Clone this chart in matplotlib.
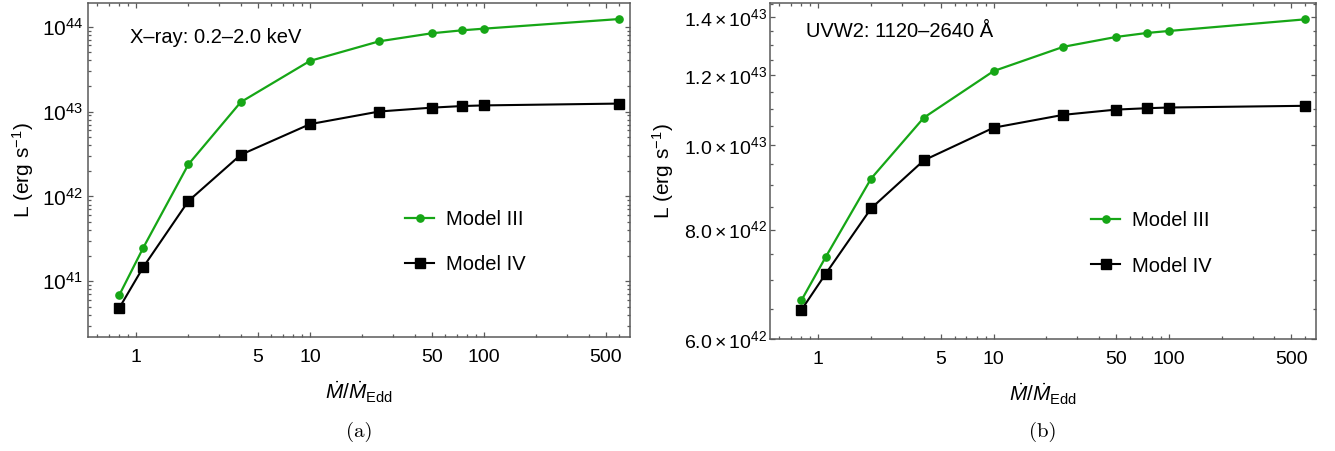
import matplotlib
matplotlib.use('Agg')
import matplotlib.pyplot as plt
from matplotlib.ticker import (FixedLocator, FixedFormatter, LogLocator,
                               NullFormatter, MultipleLocator)

plt.rcParams['font.family'] = ['Liberation Sans', 'DejaVu Sans']
plt.rcParams['mathtext.fontset'] = 'custom'
plt.rcParams['mathtext.rm'] = 'Liberation Sans'
plt.rcParams['mathtext.it'] = 'Liberation Sans:italic'
plt.rcParams['mathtext.bf'] = 'Liberation Sans:bold'

# ---------------- data ----------------
mdot = [0.8, 1.1, 2, 4, 10, 25, 50, 75, 100, 600]
xray_model3 = [6.8e40, 2.47e41, 2.38e42, 1.29e43, 3.95e43, 6.72e43, 8.35e43, 9.06e43, 9.47e43, 1.23e44]
xray_model4 = [4.8e40, 1.46e41, 8.8e41, 3.09e42, 7.1e42, 1.0e43, 1.11e43, 1.16e43, 1.18e43, 1.24e43]
uvw2_model3 = [6.64e42, 7.44e42, 9.15e42, 1.074e43, 1.214e43, 1.294e43, 1.328e43, 1.342e43, 1.349e43, 1.391e43]
uvw2_model4 = [6.475e42, 7.12e42, 8.46e42, 9.60e42, 1.046e43, 1.082e43, 1.097e43, 1.101e43, 1.103e43, 1.108e43]

x_ticks = [1, 5, 10, 50, 100, 500]
x_ticklabels = ['1', '5', '10', '50', '100', '500']
xray_yticks = [1e41, 1e42, 1e43, 1e44]
xray_yticklabels = [r'$10^{41}$', r'$10^{42}$', r'$10^{43}$', r'$10^{44}$']
uvw_yticks = [6e42, 8e42, 1e43, 1.2e43, 1.4e43]
uvw_yticklabels = [r'$6.0\times10^{42}$', r'$8.0\times10^{42}$', r'$1.0\times10^{43}$',
                   r'$1.2\times10^{43}$', r'$1.4\times10^{43}$']
series_labels = ['Model III', 'Model IV']
panel_texts = ['X\u2013ray: 0.2\u20132.0 keV', 'UVW2: 1120\u20132640 \u00c5']
captions = ['(a)', '(b)']

GREEN = '#16a616'
FRAME = '#5a5a5a'
FS = 14

W, H = 1335, 451
fig = plt.figure(figsize=(W / 100, H / 100), dpi=100)


def box(l, t, r, b):
    return [l / W, 1 - b / H, (r - l) / W, (b - t) / H]


axA = fig.add_axes(box(88, 3, 630, 337))
axB = fig.add_axes(box(770, 3, 1316, 339))


def style(ax, ypad, yfs):
    ax.set_xscale('log')
    ax.set_yscale('log')
    for s in ax.spines.values():
        s.set_color(FRAME)
        s.set_linewidth(1.1)
    ax.tick_params(which='both', direction='in', top=True, right=True,
                   color=FRAME, labelsize=FS, width=0.9)
    ax.tick_params(which='major', length=3.8)
    ax.tick_params(which='minor', length=2.2)
    ax.tick_params(axis='x', which='both', pad=8.5)
    ax.tick_params(axis='y', which='both', pad=ypad, labelsize=yfs)
    ax.xaxis.set_major_locator(FixedLocator(x_ticks))
    ax.xaxis.set_major_formatter(FixedFormatter(x_ticklabels))
    ax.xaxis.set_minor_locator(LogLocator(base=10, subs=range(1, 10), numticks=20))
    ax.xaxis.set_minor_formatter(NullFormatter())
    ax.set_xlim(0.53, 690)
    ax.set_xlabel(r'$\dot{M}/\dot{M}_{\mathrm{Edd}}$', fontsize=FS + 1, labelpad=10)


def plot_series(ax, y3, y4):
    ax.plot(mdot, y3, '-o', color=GREEN, lw=1.6, ms=5.2, label=series_labels[0], zorder=3)
    ax.plot(mdot, y4, '-s', color='black', lw=1.5, ms=7.4, label=series_labels[1], zorder=3)


def legend(ax, x):
    ax.legend(loc='upper left', bbox_to_anchor=(x, 0.38), frameon=False,
              fontsize=FS + 0.5, handlelength=1.45, handletextpad=0.6,
              labelspacing=1.3, borderpad=0, borderaxespad=0)


# ---------- panel (a) ----------
plot_series(axA, xray_model3, xray_model4)
style(axA, 3.5, FS + 1)
axA.set_ylim(2.2e40, 1.9e44)
axA.yaxis.set_major_locator(FixedLocator(xray_yticks))
axA.yaxis.set_major_formatter(FixedFormatter(xray_yticklabels))
axA.yaxis.set_minor_locator(LogLocator(base=10, subs=range(2, 10), numticks=20))
axA.yaxis.set_minor_formatter(NullFormatter())
axA.set_ylabel(r'L (erg s$^{-1}$)', fontsize=FS + 1)
axA.yaxis.set_label_coords(-0.096, 0.5)
axA.text(0.0775, 0.898, panel_texts[0], transform=axA.transAxes,
         fontsize=FS + 0.5, va='center', ha='left')
legend(axA, 0.585)

# ---------- panel (b) ----------
plot_series(axB, uvw2_model3, uvw2_model4)
style(axB, 2.0, FS)
axB.set_ylim(6.0e42, 1.452e43)
axB.yaxis.set_major_locator(FixedLocator(uvw_yticks))
axB.yaxis.set_major_formatter(FixedFormatter(uvw_yticklabels))
axB.yaxis.set_minor_locator(MultipleLocator(5e41))
axB.yaxis.set_minor_formatter(NullFormatter())
axB.set_ylabel(r'L (erg s$^{-1}$)', fontsize=FS + 1)
axB.yaxis.set_label_coords(-0.172, 0.5)
axB.text(0.066, 0.914, panel_texts[1], transform=axB.transAxes,
         fontsize=FS + 0.5, va='center', ha='left')
legend(axB, 0.588)

# ---------- captions ----------
fig.text(359 / W, 1 - 432 / H, captions[0], family='cmr10', fontsize=15,
         ha='center', va='center')
fig.text(1043 / W, 1 - 432 / H, captions[1], family='cmr10', fontsize=15,
         ha='center', va='center')

fig.savefig('out.png', dpi=100)
